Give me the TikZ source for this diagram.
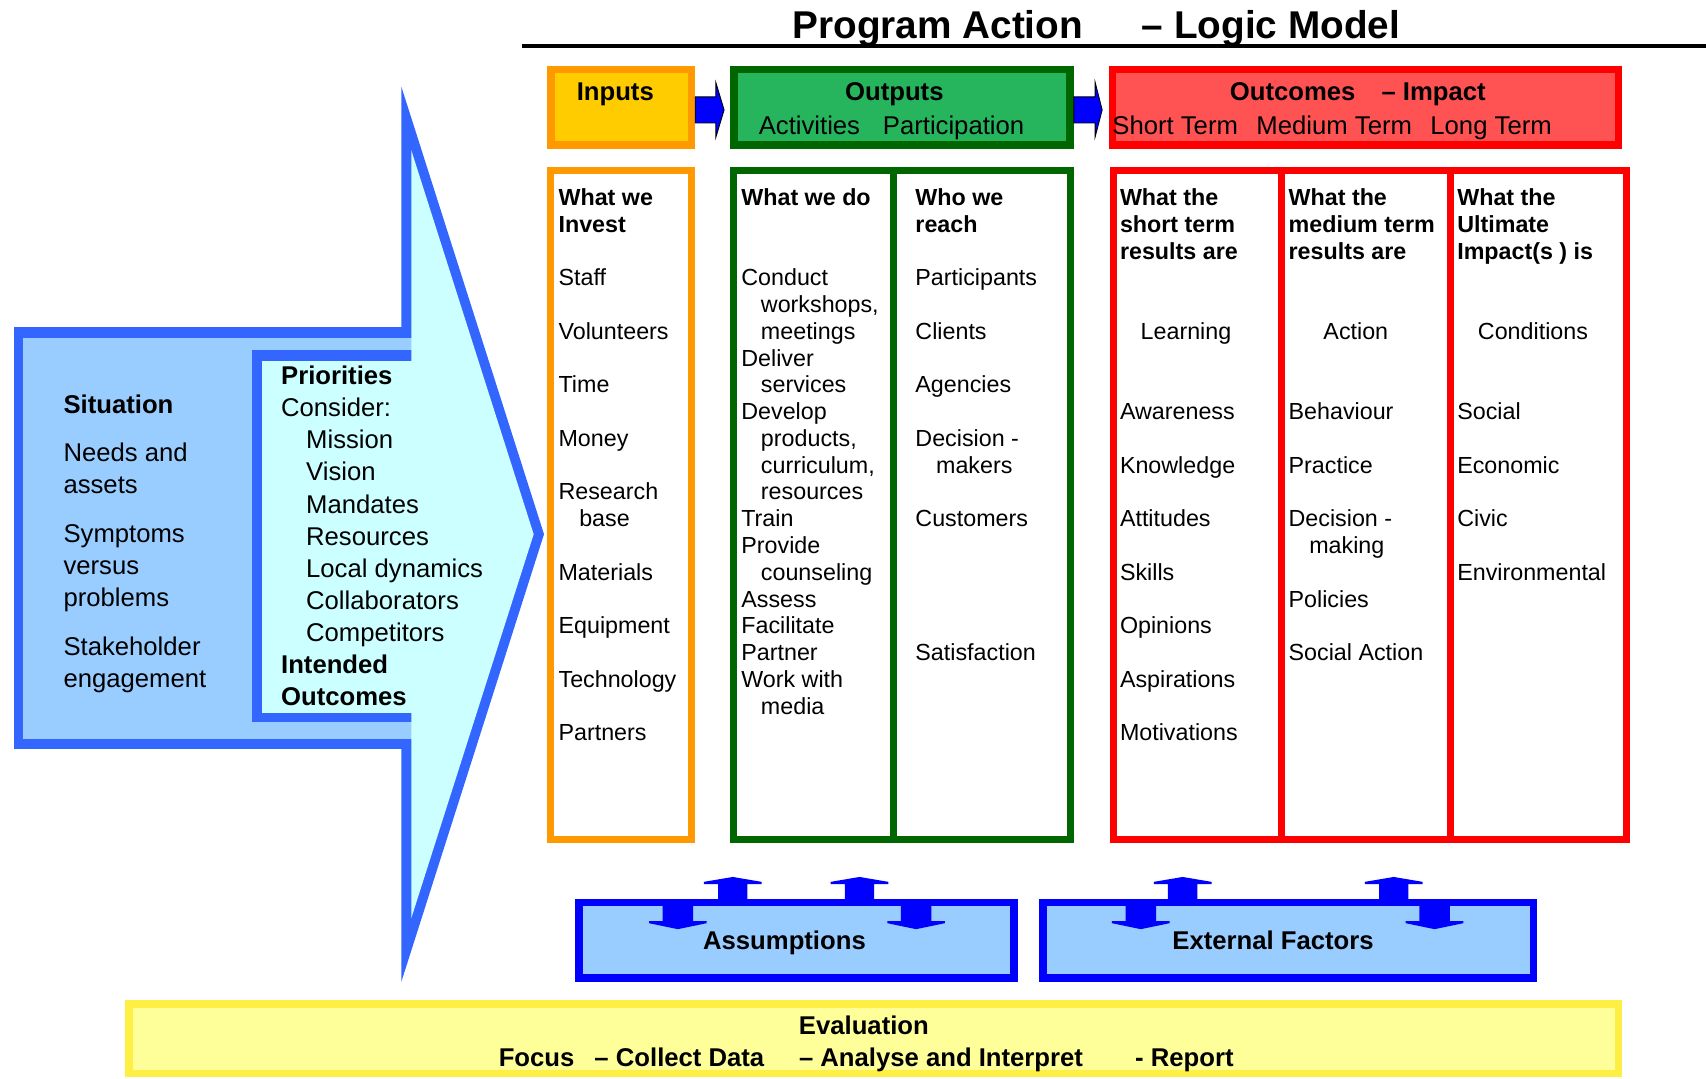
\documentclass[tikz,border=0pt]{standalone}
\usepackage{fontspec}
\setmainfont{Liberation Sans}
\usepackage{tikz}
\definecolor{inorange}{RGB}{255,153,0}
\definecolor{inyellow}{RGB}{255,204,0}
\definecolor{outdark}{RGB}{0,102,0}
\definecolor{outgreen}{RGB}{38,180,92}
\definecolor{outred}{RGB}{255,0,0}
\definecolor{outpink}{RGB}{255,82,82}
\definecolor{sitblue}{RGB}{51,102,255}
\definecolor{sitfill}{RGB}{153,204,255}
\definecolor{prifill}{RGB}{204,255,255}
\definecolor{factblue}{RGB}{0,0,255}
\definecolor{evalborder}{RGB}{255,238,68}
\definecolor{evalfill}{RGB}{255,255,153}
\tikzstyle{colfont}=[font=\fontsize{10.7}{12.3}\selectfont]
\tikzstyle{bigfont}=[font=\fontsize{11.8}{14.75}\selectfont]
\tikzstyle{coltext}=[colfont, anchor=north west, align=left, inner sep=0pt]
\tikzstyle{sidetext}=[bigfont, anchor=north west, align=left, inner sep=0pt]
\tikzstyle{boxtext}=[bigfont, anchor=base, inner sep=0pt]
\tikzstyle{boxtextw}=[bigfont, anchor=base west, inner sep=0pt]
\tikzstyle{headbox}=[line width=3.5pt]
\tikzstyle{colbox}=[line width=3.25pt, fill=white]
\tikzstyle{factbox}=[line width=3.5pt, draw=factblue, fill=sitfill]
\tikzstyle{steparrow}=[fill=factblue, draw=black, line width=0.4pt]
\tikzstyle{factarrow}=[fill=factblue]

\begin{document}
\begin{tikzpicture}[x=0.5pt, y=-0.5pt]
        \useasboundingbox (0,0) rectangle (1568,991);
        % title
        \node[font=\fontsize{17.8}{20}\selectfont\bfseries, anchor=base west, inner sep=0pt] (title) at (728,35) {Program Action\hspace{27pt}– Logic Model};
        \draw[line width=2pt] (480,42) -- (1568,42);
        % situation and priorities
        \fill[sitblue] (369,80) -- (500,491) -- (369,902) -- cycle;
        \fill[sitblue] (13,301) rectangle (378,688);
        \fill[sitfill] (21.5,310.5) rectangle (379,679.5);
        \fill[sitblue] (232,322) rectangle (379,664);
        \fill[prifill] (241,332) rectangle (380,655);
        \fill[prifill] (378,138) -- (490.5,491) -- (378,844) -- cycle;
        \node[sidetext] (situation) at (58,362.3) {\textbf{Situation}\\[7.6pt]Needs and\\assets\\[7.6pt]Symptoms\\versus\\problems\\[7.6pt]Stakeholder\\engagement};
        \node[sidetext] (priorities) at (258,336) {\textbf{Priorities}\\Consider:\\\hspace*{11.5pt}Mission\\\hspace*{11.5pt}Vision\\\hspace*{11.5pt}Mandates\\\hspace*{11.5pt}Resources\\\hspace*{11.5pt}Local dynamics\\\hspace*{11.5pt}Collaborators\\\hspace*{11.5pt}Competitors\\\textbf{Intended}\\\textbf{Outcomes}};
        % header boxes
        \draw[headbox, draw=inorange, fill=inyellow] (506.5,64) rectangle (635.5,133.5);
        \draw[headbox, draw=outdark, fill=outgreen] (674.5,64) rectangle (983.5,133.5);
        \draw[headbox, draw=outred, fill=outpink] (1022.5,64) rectangle (1487.5,133.5);
        \draw[steparrow] (639,89) -- (658,89) -- (658,76) -- (665.5,101) -- (658,126) -- (658,113) -- (639,113) -- cycle;
        \draw[steparrow] (987,89) -- (1006.5,89) -- (1006.5,75.5) -- (1013,101) -- (1006.5,126) -- (1006.5,113) -- (987,113) -- cycle;
        \node[boxtext] (inputs) at (565.5,92.5) {\textbf{Inputs}};
        \node[boxtext] (outputs) at (822,92.5) {\textbf{Outputs}};
        \node[boxtextw] (outsub) at (697,123.5) {Activities\hspace{10.5pt}Participation};
        \node[boxtextw] (outcomes) at (1130,92.5) {\textbf{Outcomes\hspace{12pt}– Impact}};
        \node[boxtextw] (outcsub) at (1022,123.5) {Short Term\hspace{8.5pt}Medium Term\hspace{8.5pt}Long Term};
        % columns
        \draw[colbox, draw=inorange] (506.25,156.75) rectangle (635.75,771.75);
        \draw[colbox, draw=outdark] (674.25,156.75) rectangle (821,771.75);
        \draw[colbox, draw=outdark] (821,156.75) rectangle (983.75,771.75);
        \draw[colbox, draw=outred] (1023,156.75) rectangle (1177.5,771.75);
        \draw[colbox, draw=outred] (1177.5,156.75) rectangle (1333,771.75);
        \draw[colbox, draw=outred] (1333,156.75) rectangle (1494.5,771.75);
        \node[coltext] (invest) at (513,173) {\textbf{What we}\\\textbf{Invest}\\[12.3pt]Staff\\[12.3pt]Volunteers\\[12.3pt]Time\\[12.3pt]Money\\[12.3pt]Research\\\hspace*{9.5pt}base\\[12.3pt]Materials\\[12.3pt]Equipment\\[12.3pt]Technology\\[12.3pt]Partners};
        \node[coltext] (activities) at (681,173) {\textbf{What we do}\\[24.6pt]Conduct\\\hspace*{9pt}workshops,\\\hspace*{9pt}meetings\\Deliver\\\hspace*{9pt}services\\Develop\\\hspace*{9pt}products,\\\hspace*{9pt}curriculum,\\\hspace*{9pt}resources\\Train\\Provide\\\hspace*{9pt}counseling\\Assess\\Facilitate\\Partner\\Work with\\\hspace*{9pt}media};
        \node[coltext] (participation) at (841,173) {\textbf{Who we}\\\textbf{reach}\\[12.3pt]Participants\\[12.3pt]Clients\\[12.3pt]Agencies\\[12.3pt]Decision -\\\hspace*{9.5pt}makers\\[12.3pt]Customers\\[49.2pt]Satisfaction};
        \node[coltext] (shortterm) at (1029,173) {\textbf{What the}\\\textbf{short term}\\\textbf{results are}\\[24.6pt]\hspace*{9.5pt}Learning\\[24.6pt]Awareness\\[12.3pt]Knowledge\\[12.3pt]Attitudes\\[12.3pt]Skills\\[12.3pt]Opinions\\[12.3pt]Aspirations\\[12.3pt]Motivations};
        \node[coltext] (mediumterm) at (1184,173) {\textbf{What the}\\\textbf{medium term}\\\textbf{results are}\\[24.6pt]\hspace*{16pt}Action\\[24.6pt]Behaviour\\[12.3pt]Practice\\[12.3pt]Decision -\\\hspace*{9.5pt}making\\[12.3pt]Policies\\[12.3pt]Social Action};
        \node[coltext] (longterm) at (1339,173) {\textbf{What the}\\\textbf{Ultimate}\\\textbf{Impact(s ) is}\\[24.6pt]\hspace*{9.5pt}Conditions\\[24.6pt]Social\\[12.3pt]Economic\\[12.3pt]Civic\\[12.3pt]Environmental};
        % assumptions and external factors
        \draw[factbox] (532,829.5) rectangle (932,899);
        \draw[factbox] (958.5,829.5) rectangle (1409.5,899);
        \foreach \cx in {673.5,790,1087,1281}
            \fill[factarrow] (\cx-26.5,812.5) -- (\cx-26.5,810.5) -- (\cx,806) -- (\cx+26.5,810.5) -- (\cx+26.5,812.5) -- (\cx+13.5,812.5) -- (\cx+13.5,829) -- (\cx-13.5,829) -- (\cx-13.5,812.5) -- cycle;
        \foreach \cx in {623,842,1048.5,1318.5}
            \fill[factarrow] (\cx-14,829) -- (\cx+14,829) -- (\cx+14,846.5) -- (\cx+26.5,846.5) -- (\cx+26.5,848.5) -- (\cx,854) -- (\cx-26.5,848.5) -- (\cx-26.5,846.5) -- (\cx-14,846.5) -- cycle;
        \node[boxtext] (assumptions) at (721,872.5) {\textbf{Assumptions}};
        \node[boxtext] (factors) at (1170,872.5) {\textbf{External Factors}};
        % evaluation
        \draw[line width=3.5pt, draw=evalborder, fill=evalfill] (118.5,922.5) rectangle (1487.5,986.5);
        \node[boxtext] (evaluation) at (794,950.5) {\textbf{Evaluation}};
        \node[boxtextw] (focus) at (458,980.5) {\textbf{Focus}};
        \node[boxtextw] (collect) at (546,980.5) {\textbf{– Collect Data}};
        \node[boxtextw] (analyse) at (734,980.5) {\textbf{– Analyse and Interpret}};
        \node[boxtextw] (report) at (1043,980.5) {\textbf{- Report}};
    \end{tikzpicture}
\end{document}
